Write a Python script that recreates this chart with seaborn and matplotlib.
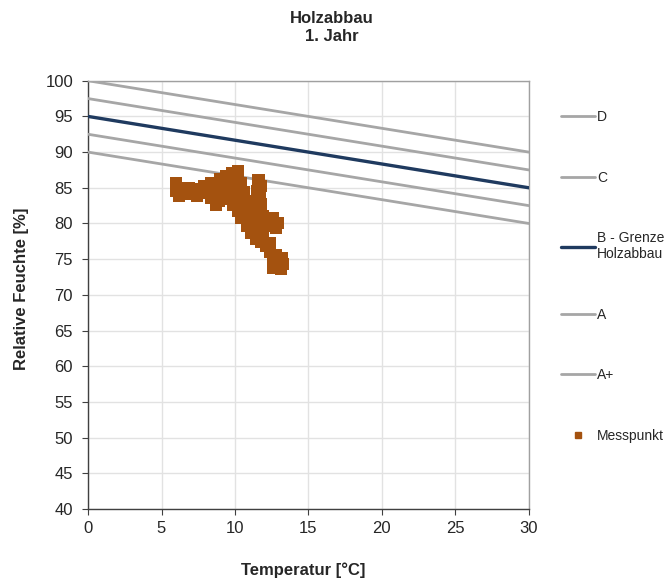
import matplotlib
matplotlib.use("Agg")
import matplotlib.pyplot as plt
import pandas as pd
import seaborn as sns
from matplotlib.lines import Line2D

# limit lines: relative humidity at 0 °C and at 30 °C
line_names = ["D", "C", "B - Grenze\nHolzabbau", "A", "A+"]
line_start = [100.0, 97.5, 95.0, 92.5, 90.0]
line_end = [90.0, 87.5, 85.0, 82.5, 80.0]
line_colors = ["#a6a6a6", "#a6a6a6", "#1f3a5f", "#a6a6a6", "#a6a6a6"]
line_widths = [2.0, 2.0, 2.4, 2.0, 2.0]
temp_range = [0, 30]

# measured points (Messpunkt)
mess_temp = [6.0, 6.0, 6.2, 6.4,
             6.9, 6.9, 7.4, 7.4, 7.9, 7.9, 8.4, 8.4, 8.4, 8.9, 8.9, 8.9, 8.7,
             9.0, 9.4, 9.4, 9.8, 9.8, 10.2, 10.2, 10.4, 9.7, 10.1, 9.4, 9.2, 9.7,
             10.3, 10.6, 10.6, 9.9,
             11.6, 11.8, 11.5, 11.7, 11.3, 11.8, 11.2,
             10.2, 10.6, 10.4, 10.9, 11.0, 11.4, 11.4, 11.9, 12.2, 12.6, 12.9, 12.8,
             12.3, 11.8, 11.2, 10.8, 11.1, 11.6,
             11.4, 11.8, 12.1, 12.4, 11.9,
             12.4, 12.8, 13.2, 12.6, 13.3, 12.8, 12.6, 13.1]
mess_feuchte = [85.6, 84.6, 83.9, 85.0,
                85.0, 84.2, 84.8, 83.9, 85.3, 84.3, 85.7, 84.6, 83.6, 85.2, 84.2, 83.2, 82.6,
                86.2, 86.6, 85.6, 87.0, 86.0, 87.4, 86.5, 85.6, 84.9, 84.6, 84.4, 83.6, 83.4,
                83.7, 84.4, 82.8, 82.6,
                86.1, 85.3, 84.6, 83.8, 83.2, 82.7, 82.2,
                81.8, 81.6, 80.8, 80.5, 81.6, 81.2, 80.2, 81.0, 80.4, 80.7, 80.1, 79.3,
                79.6, 79.5, 79.3, 79.6, 78.6, 78.6,
                77.8, 77.4, 76.8, 77.3, 78.2,
                76.0, 75.6, 75.2, 74.9, 74.3, 74.1, 73.7, 73.6]
mess_color = "#a4520f"

sns.set_theme(style="white")
plt.rcParams["font.family"] = ["Liberation Sans", "DejaVu Sans"]

fig = plt.figure(figsize=(6.72, 5.85), dpi=100)
ax = fig.add_axes([0.131, 0.130, 0.656, 0.732])

handles = []
for name, y0, y1, col, lw in zip(line_names, line_start, line_end, line_colors, line_widths):
    df = pd.DataFrame({"t": temp_range, "rh": [y0, y1]})
    sns.lineplot(data=df, x="t", y="rh", ax=ax, color=col, linewidth=lw, zorder=3)
    handles.append(Line2D([0], [0], color=col, linewidth=lw, label=name))

mess = pd.DataFrame({"t": mess_temp, "rh": mess_feuchte})
sns.scatterplot(data=mess, x="t", y="rh", ax=ax, marker="s", s=75,
                color=mess_color, edgecolor="none", zorder=4)
handles.append(Line2D([0], [0], marker="s", linestyle="none", color=mess_color,
                      markersize=4, label="Messpunkt"))

ax.set_xlim(0, 30)
ax.set_ylim(40, 100)
ax.set_xticks(range(0, 31, 5))
ax.set_yticks(range(40, 101, 5))
ax.grid(True, color="#e2e2e2", linewidth=1.0)
ax.set_axisbelow(True)
ax.tick_params(axis="both", labelsize=12, length=4.3, width=0.8, color="#404040",
               bottom=True, left=True)
ax.tick_params(axis="y", pad=6.5)
ax.tick_params(axis="x", pad=4.5)
for side in ["top", "right"]:
    ax.spines[side].set_color("#a0a0a0")
    ax.spines[side].set_linewidth(1.0)
for side in ["left", "bottom"]:
    ax.spines[side].set_color("#404040")
    ax.spines[side].set_linewidth(1.0)

ax.set_xlabel("Temperatur [°C]", fontsize=12, fontweight="bold")
ax.set_ylabel("Relative Feuchte [%]", fontsize=12, fontweight="bold")
ax.xaxis.set_label_coords(0.4875, -0.125)
ax.yaxis.set_label_coords(-0.135, 0.514)

fig.suptitle("Holzabbau\n1. Jahr", x=0.494, y=0.982, va="top", fontsize=12,
             fontweight="bold", linespacing=1.25)

fig.legend(handles=handles, loc="upper left", bbox_to_anchor=(0.835, 0.812),
           frameon=False, fontsize=10, labelspacing=3.35, handlelength=2.45,
           handletextpad=0.15, borderaxespad=0, borderpad=0)

fig.savefig("out.png", dpi=100)
